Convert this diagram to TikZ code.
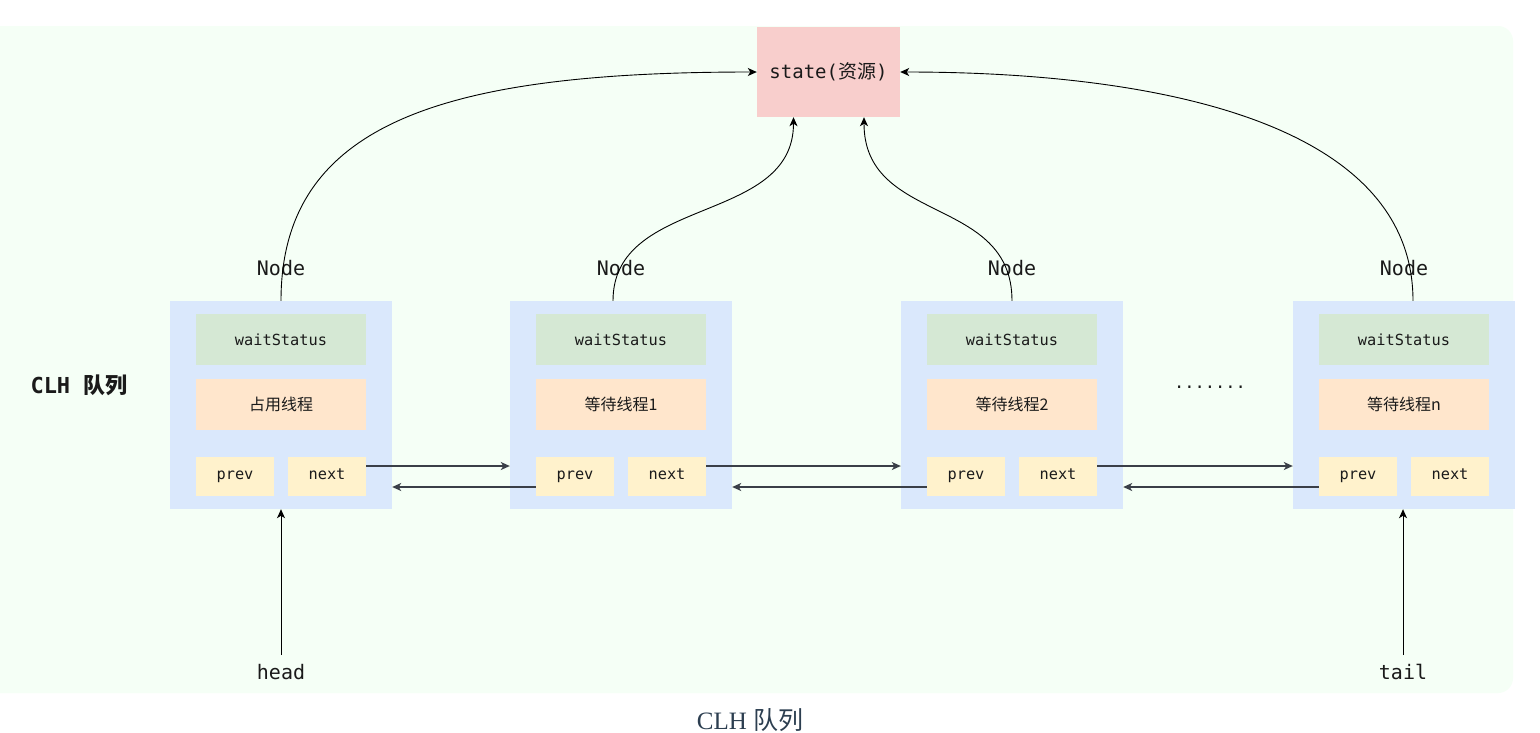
\documentclass[tikz,border=0pt]{standalone}
\usepackage{fontspec}
\setmainfont{Liberation Serif}
\setmonofont{DejaVu Sans Mono}
\newfontfamily\cjk{Noto Sans CJK SC}
\usetikzlibrary{arrows.meta}
\definecolor{bgpanel}{HTML}{F5FFF6}
\definecolor{contblue}{HTML}{DAE8FC}
\definecolor{wsgreen}{HTML}{D5E8D4}
\definecolor{thorange}{HTML}{FFE6CC}
\definecolor{ptryellow}{HTML}{FFF2CC}
\definecolor{statered}{HTML}{F8CECC}
\definecolor{txt}{HTML}{1A1A1A}
\definecolor{capcol}{HTML}{2C3E50}
\definecolor{linkcol}{HTML}{3A3F48}
\tikzset{
  cont/.style={fill=contblue, minimum width=222pt, minimum height=208pt, inner sep=0pt},
  wsbox/.style={fill=wsgreen, minimum width=170pt, minimum height=51pt, inner sep=0pt, text=txt, font=\ttfamily\fontsize{15.3}{17}\selectfont},
  thbox/.style={fill=thorange, minimum width=170pt, minimum height=51pt, inner sep=0pt, text=txt, font=\cjk\fontsize{16}{18}\selectfont},
  ptrbox/.style={fill=ptryellow, minimum width=78pt, minimum height=39pt, inner sep=0pt, text height=8pt, text depth=3pt, text=txt, font=\ttfamily\fontsize{15.3}{17}\selectfont},
  lbl/.style={text=txt, font=\ttfamily\fontsize{20}{22}\selectfont, inner sep=1pt},
  curv/.style={draw=black, line width=0.9pt, -{Stealth[length=9pt,width=8pt,inset=2.5pt]}},
  link/.style={draw=linkcol, line width=1.4pt, -{Stealth[length=9pt,width=8pt,inset=2.5pt]}},
}
\begin{document}
\begin{tikzpicture}[x=1pt,y=-1pt]
\useasboundingbox (0,0) rectangle (1540,732);
\clip (0,0) rectangle (1540,732);
\fill[white] (0,0) rectangle (1540,732);
\fill[bgpanel, rounded corners=15pt] (-30,26) rectangle (1513,693);

% state
\node[fill=statered, minimum width=143pt, minimum height=90pt, inner sep=0pt, text=txt,
      font=\ttfamily\fontsize{19}{21}\selectfont] (st) at (828.5,72) {state({\cjk 资源})};

% list nodes
\foreach \i/\x/\lab in {1/170/占用线程, 2/510/等待线程1, 3/901/等待线程2, 4/1293/等待线程n}{
  \node[cont] (c\i) at (\x+111,405) {};
  \node[wsbox] (ws\i) at (\x+111,339.5) {waitStatus};
  \node[thbox] (th\i) at (\x+111,404.5) {\lab};
  \node[ptrbox] (pv\i) at (\x+65,476.5) {prev};
  \node[ptrbox] (nx\i) at (\x+157,476.5) {next};
  \node[lbl] (nl\i) at (\x+111,268) {Node};
}

% left label and dots
\node[text=txt, font=\ttfamily\bfseries\fontsize{22}{24}\selectfont, inner sep=0pt] (clh) at (79,385) {CLH {\cjk\bfseries 队列}};
\node[text=txt, font=\ttfamily\fontsize{17}{19}\selectfont, inner sep=0pt] (dots) at (1210,387) {.......};

% curves to state
\draw[curv] (c1.north) .. controls (281,120) and (450,72) .. (st.west);
\draw[curv] ([xshift=-8pt]c2.north) .. controls (613,195) and (793.5,225) .. ([xshift=-35pt]st.south);
\draw[curv] (c3.north) .. controls (1012,195) and (864,225) .. ([xshift=35.5pt]st.south);
\draw[curv] ([xshift=9pt]c4.north) .. controls (1413,120) and (1150,72) .. (st.east);

% forward (next) links
\draw[link] ([yshift=10.5pt]nx1.east) -- ([yshift=10.5pt]nx1.east -| c2.west);
\draw[link] ([yshift=10.5pt]nx2.east) -- ([yshift=10.5pt]nx2.east -| c3.west);
\draw[link] ([yshift=10.5pt]nx3.east) -- ([yshift=10.5pt]nx3.east -| c4.west);
% backward (prev) links
\draw[link] ([yshift=-10.5pt]pv2.west) -- ([yshift=-10.5pt]pv2.west -| c1.east);
\draw[link] ([yshift=-10.5pt]pv3.west) -- ([yshift=-10.5pt]pv3.west -| c2.east);
\draw[link] ([yshift=-10.5pt]pv4.west) -- ([yshift=-10.5pt]pv4.west -| c3.east);

% head / tail
\node[lbl] (head) at (281,672) {head};
\node[lbl] (tail) at (1403,672) {tail};
\draw[curv] ([yshift=8pt]head.north) -- (c1.south);
\draw[curv] ([yshift=8pt]tail.north) -- (tail.north |- c4.south);

% caption
\node[text=capcol, font=\fontsize{25}{28}\selectfont, inner sep=0pt] (cap) at (750,720) {CLH {\cjk 队列}};
\end{tikzpicture}
\end{document}
